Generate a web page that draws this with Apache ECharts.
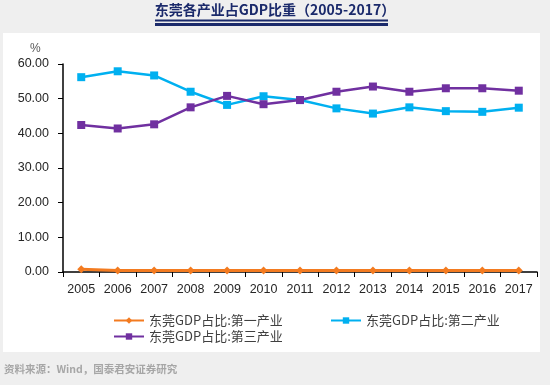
<!DOCTYPE html>
<html><head><meta charset="utf-8">
<script src="https://cdn.jsdelivr.net/npm/echarts@6/dist/echarts.min.js"></script>
<style>html,body{margin:0;padding:0;background:#efefef;}#c{width:550px;height:385px;}</style>
</head><body><div id="c"></div>
<script>
const years = ['2005','2006','2007','2008','2009','2010','2011','2012','2013','2014','2015','2016','2017'];
const primary = [0.8,0.4,0.4,0.4,0.4,0.4,0.4,0.4,0.4,0.4,0.4,0.4,0.4];
const secondary = [56.2,57.9,56.7,52.0,48.2,50.7,49.6,47.2,45.7,47.5,46.4,46.2,47.4];
const tertiary = [42.4,41.4,42.6,47.5,50.8,48.4,49.6,52.0,53.5,52.0,53.0,53.0,52.3];
const names = ['东莞GDP占比:第一产业','东莞GDP占比:第二产业','东莞GDP占比:第三产业'];

const font = 'Liberation Sans, Arial, sans-serif';
const cjk = '"Noto Sans CJK SC", sans-serif';
const chart = echarts.init(document.getElementById('c'));
const legendBase = {padding: 0, itemWidth: 30, itemHeight: 8, itemGap: 3, textStyle: {fontFamily: cjk, fontSize: 13, color: '#404040'}};
chart.setOption({
  backgroundColor: '#efefef',
  animation: false,
  graphic: [
    {type: 'rect', left: 3, top: 33, shape: {width: 537, height: 319}, style: {fill: '#ffffff'}, z: -1},
    {type: 'text', left: 'center', top: 3, style: {text: '东莞各产业占GDP比重（2005-2017）', font: 'bold 14px "Noto Sans CJK SC", sans-serif', fill: '#1b2a6b'}},
    {type: 'rect', left: 155, top: 19.5, shape: {width: 233, height: 2}, style: {fill: '#1b2a6b'}},
    {type: 'rect', left: 155, top: 23, shape: {width: 233, height: 3}, style: {fill: '#1b2a6b'}},
    {type: 'text', left: 30, top: 43, style: {text: '%', font: '12px ' + font, fill: '#595959'}},
    {type: 'text', left: 4, top: 364, style: {text: '资料来源：Wind，国泰君安证券研究', font: 'bold 10.5px "Noto Sans CJK SC", sans-serif', fill: '#a6a6a6'}}
  ],
  grid: {left: 63, right: 13, top: 64, bottom: 113},
  legend: [
    Object.assign({data: [names[0]], left: 113, top: 314}, legendBase),
    Object.assign({data: [names[1]], left: 330, top: 314}, legendBase),
    Object.assign({data: [names[2]], left: 113, top: 330}, legendBase)
  ],
  xAxis: {
    type: 'category', data: years, boundaryGap: true,
    axisLine: {lineStyle: {color: '#000', width: 1.5}},
    axisTick: {show: true, length: 5, lineStyle: {color: '#000'}},
    axisLabel: {fontFamily: font, fontSize: 12.5, color: '#262626', margin: 11}
  },
  yAxis: {
    type: 'value', min: 0, max: 60, interval: 10,
    axisLine: {show: true, lineStyle: {color: '#000', width: 1.5}},
    axisTick: {show: true, length: 5, lineStyle: {color: '#000'}},
    splitLine: {show: false},
    axisLabel: {fontFamily: font, fontSize: 12.5, color: '#262626', margin: 14, formatter: v => v.toFixed(2)}
  },
  series: [
    {name: names[0], type: 'line', data: primary, color: '#f37b20', symbol: 'diamond', symbolSize: 8, lineStyle: {width: 3}, itemStyle: {color: '#f37b20'}},
    {name: names[1], type: 'line', data: secondary, color: '#00b0f0', symbol: 'rect', symbolSize: 8, lineStyle: {width: 2.5}, itemStyle: {color: '#00b0f0'}},
    {name: names[2], type: 'line', data: tertiary, color: '#7030a0', symbol: 'rect', symbolSize: 8, lineStyle: {width: 2.5}, itemStyle: {color: '#7030a0'}}
  ]
});
</script></body></html>
